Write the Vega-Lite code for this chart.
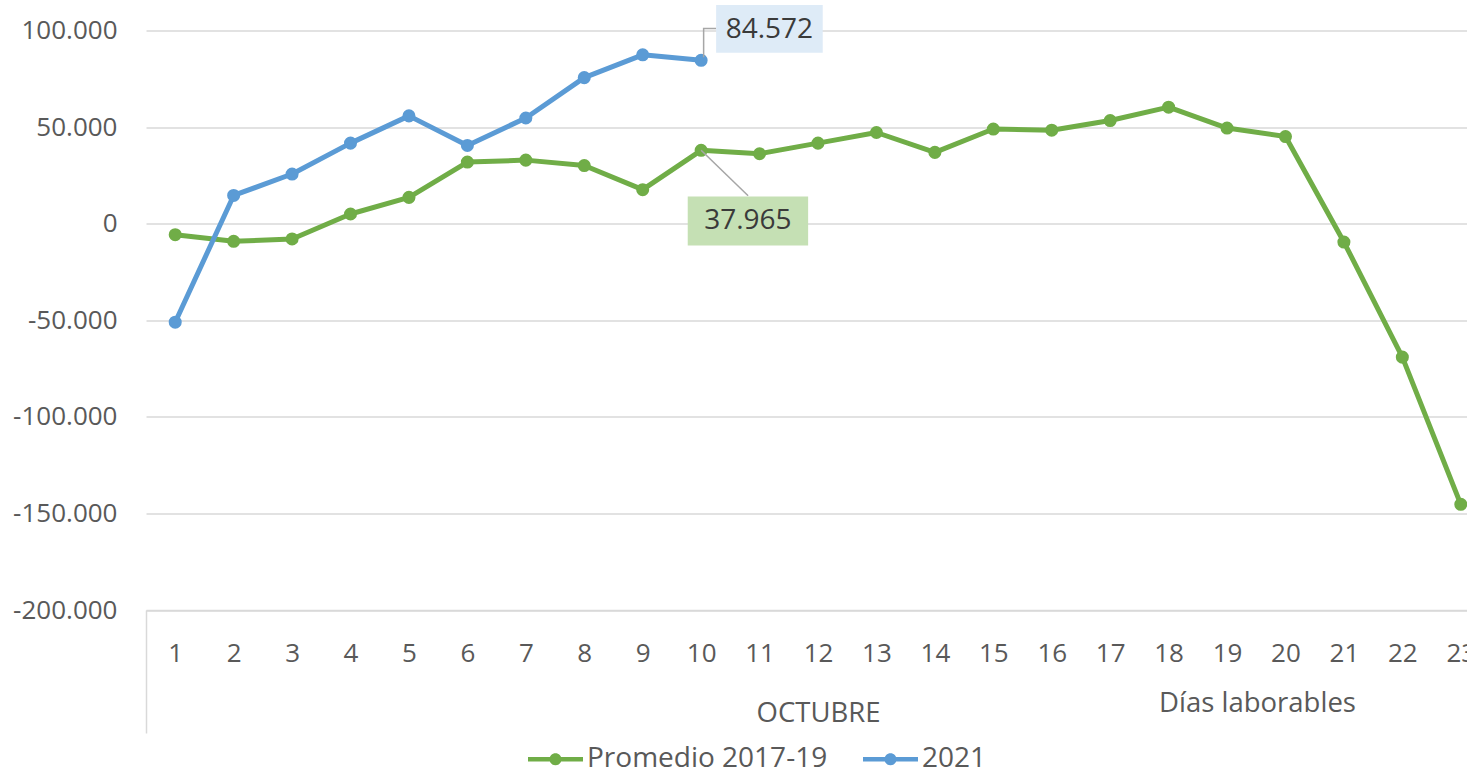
{
  "$schema": "https://vega.github.io/schema/vega-lite/v6.json",
  "width": 1344,
  "height": 579.5,
  "autosize": {"type": "none"},
  "padding": {"left": 146, "top": 30.5, "right": 0, "bottom": 167},
  "background": "white",
  "config": {
    "view": {"stroke": null},
    "font": "Open Sans",
    "locale": {"number": {"decimal": ",", "thousands": ".", "grouping": [3], "currency": ["", " €"], "minus": "-"}},
    "legend": {"labelFont": "Open Sans"}
  },
  "data": {"values": [
    {"dia": 1, "serie": "Promedio 2017-19", "valor": -5700},
    {"dia": 2, "serie": "Promedio 2017-19", "valor": -9150},
    {"dia": 3, "serie": "Promedio 2017-19", "valor": -7900},
    {"dia": 4, "serie": "Promedio 2017-19", "valor": 5000},
    {"dia": 5, "serie": "Promedio 2017-19", "valor": 13600},
    {"dia": 6, "serie": "Promedio 2017-19", "valor": 31900},
    {"dia": 7, "serie": "Promedio 2017-19", "valor": 32900},
    {"dia": 8, "serie": "Promedio 2017-19", "valor": 30100},
    {"dia": 9, "serie": "Promedio 2017-19", "valor": 17600},
    {"dia": 10, "serie": "Promedio 2017-19", "valor": 37965},
    {"dia": 11, "serie": "Promedio 2017-19", "valor": 36200},
    {"dia": 12, "serie": "Promedio 2017-19", "valor": 41700},
    {"dia": 13, "serie": "Promedio 2017-19", "valor": 47200},
    {"dia": 14, "serie": "Promedio 2017-19", "valor": 36900},
    {"dia": 15, "serie": "Promedio 2017-19", "valor": 49000},
    {"dia": 16, "serie": "Promedio 2017-19", "valor": 48400},
    {"dia": 17, "serie": "Promedio 2017-19", "valor": 53400},
    {"dia": 18, "serie": "Promedio 2017-19", "valor": 60300},
    {"dia": 19, "serie": "Promedio 2017-19", "valor": 49500},
    {"dia": 20, "serie": "Promedio 2017-19", "valor": 45100},
    {"dia": 21, "serie": "Promedio 2017-19", "valor": -9500},
    {"dia": 22, "serie": "Promedio 2017-19", "valor": -69100},
    {"dia": 23, "serie": "Promedio 2017-19", "valor": -145300},
    {"dia": 1, "serie": "2021", "valor": -51000},
    {"dia": 2, "serie": "2021", "valor": 14600},
    {"dia": 3, "serie": "2021", "valor": 25700},
    {"dia": 4, "serie": "2021", "valor": 41700},
    {"dia": 5, "serie": "2021", "valor": 55800},
    {"dia": 6, "serie": "2021", "valor": 40500},
    {"dia": 7, "serie": "2021", "valor": 54700},
    {"dia": 8, "serie": "2021", "valor": 75600},
    {"dia": 9, "serie": "2021", "valor": 87400},
    {"dia": 10, "serie": "2021", "valor": 84572}
  ]},
  "resolve": {"axis": {"x": "independent"}},
  "encoding": {
    "y": {
      "field": "valor", "type": "quantitative",
      "scale": {"domain": [-200000, 100000], "nice": false, "zero": false},
      "axis": {
        "title": null,
        "values": [-200000, -150000, -100000, -50000, 0, 50000, 100000],
        "format": ",d",
        "domain": false, "ticks": false,
        "labelPadding": 29,
        "labelFontSize": 26, "labelColor": "#595959", "labelFont": "Open Sans",
        "grid": true, "gridColor": "#D9D9D9", "gridWidth": 1.5
      }
    }
  },
  "layer": [
    {
      "mark": {"type": "line", "strokeWidth": 5, "strokeJoin": "round", "strokeCap": "round"},
      "encoding": {
        "x": {
          "field": "dia", "type": "ordinal",
          "scale": {"type": "point", "padding": 0.5},
          "axis": {
            "orient": "bottom",
            "title": "OCTUBRE", "titleY": 103, "titleBaseline": "middle",
            "titleFontSize": 27.5, "titleFontWeight": "normal", "titleColor": "#595959", "titleFont": "Open Sans",
            "labelAngle": 0, "labelFontSize": 26, "labelColor": "#595959", "labelFont": "Open Sans",
            "labelBaseline": "middle", "labelPadding": -80,
            "tickOffset": -29.2, "labelOffset": 29.2,
            "ticks": true, "tickSize": 123, "tickColor": "#D9D9D9", "tickWidth": 1.5,
            "tickOpacity": {"condition": {"test": "datum.value === 1", "value": 1}, "value": 0},
            "domain": true, "domainColor": "#D9D9D9", "domainWidth": 1.5,
            "grid": false
          }
        },
        "color": {
          "field": "serie", "type": "nominal",
          "scale": {"domain": ["Promedio 2017-19", "2021"], "range": ["#70AD47", "#5B9BD5"]},
          "legend": {
            "title": null, "orient": "none", "direction": "horizontal",
            "legendX": 382, "legendY": 701, "padding": 0,
            "symbolType": "M-1,-0.08H1V0.08H-1Z M0.22,0A0.22,0.22 0 1 1 -0.22,0A0.22,0.22 0 1 1 0.22,0Z",
            "symbolSize": 3025, "symbolStrokeWidth": 0,
            "labelFontSize": 28, "labelColor": "#595959", "labelOffset": 4, "labelLimit": 500,
            "columnPadding": 35,
            "encode": {"symbols": {"update": {"fill": {"scale": "color", "field": "value"}, "stroke": {"value": "transparent"}}}}
          }
        },
        "order": {"field": "dia", "type": "quantitative"}
      }
    },
    {
      "mark": {"type": "point", "filled": true, "opacity": 1, "size": 170},
      "encoding": {
        "x": {"field": "dia", "type": "ordinal", "axis": null},
        "color": {"field": "serie", "type": "nominal", "legend": null}
      }
    },
    {
      "transform": [{"filter": "datum.dia === 10 && datum.serie === '2021'"}],
      "mark": {"type": "point", "filled": false, "stroke": "#A6A6A6", "strokeWidth": 1.5, "opacity": 1, "size": 40000, "shape": "M0.025,-0.03V-0.317H0.15"},
      "encoding": {"x": {"field": "dia", "type": "ordinal", "axis": null}}
    },
    {
      "transform": [{"filter": "datum.dia === 10 && datum.serie === 'Promedio 2017-19'"}],
      "mark": {"type": "point", "filled": false, "stroke": "#A6A6A6", "strokeWidth": 1.5, "opacity": 1, "size": 40000, "shape": "M0,0L0.47,0.455"},
      "encoding": {"x": {"field": "dia", "type": "ordinal", "axis": null}}
    },
    {
      "transform": [{"filter": "datum.dia === 10 && datum.serie === '2021'"}],
      "mark": {"type": "point", "filled": true, "fill": "#DEEBF7", "strokeWidth": 0, "opacity": 1, "size": 40000, "shape": "M0.15,-0.553H1.216V-0.076H0.15Z"},
      "encoding": {"x": {"field": "dia", "type": "ordinal", "axis": null}}
    },
    {
      "transform": [{"filter": "datum.dia === 10 && datum.serie === 'Promedio 2017-19'"}],
      "mark": {"type": "point", "filled": true, "fill": "#C5E0B4", "strokeWidth": 0, "opacity": 1, "size": 40000, "shape": "M-0.134,0.462H1.07V0.952H-0.134Z"},
      "encoding": {"x": {"field": "dia", "type": "ordinal", "axis": null}}
    },
    {
      "transform": [{"filter": "datum.dia === 10 && datum.serie === 'Promedio 2017-19'"}],
      "mark": {"type": "text", "fontSize": 28, "color": "#3A3A3A", "font": "Open Sans", "dx": 46.8, "dy": 71, "align": "center", "baseline": "middle"},
      "encoding": {
        "x": {"field": "dia", "type": "ordinal", "axis": null},
        "text": {"field": "valor", "type": "quantitative", "format": ",d"}
      }
    },
    {
      "transform": [{"filter": "datum.dia === 10 && datum.serie === '2021'"}],
      "mark": {"type": "text", "fontSize": 28, "color": "#3A3A3A", "font": "Open Sans", "dx": 68.3, "dy": -30, "align": "center", "baseline": "middle"},
      "encoding": {
        "x": {
          "field": "dia", "type": "ordinal",
          "axis": {
            "orient": "top", "labels": false, "ticks": false, "domain": false, "grid": false,
            "title": "Días laborables", "titleX": 1111, "titleY": 672.5,
            "titleAlign": "center", "titleBaseline": "middle", "titleAngle": 0,
            "titleFontSize": 27.5, "titleFontWeight": "normal", "titleColor": "#595959", "titleFont": "Open Sans"
          }
        },
        "text": {"field": "valor", "type": "quantitative", "format": ",d"}
      }
    }
  ]
}
